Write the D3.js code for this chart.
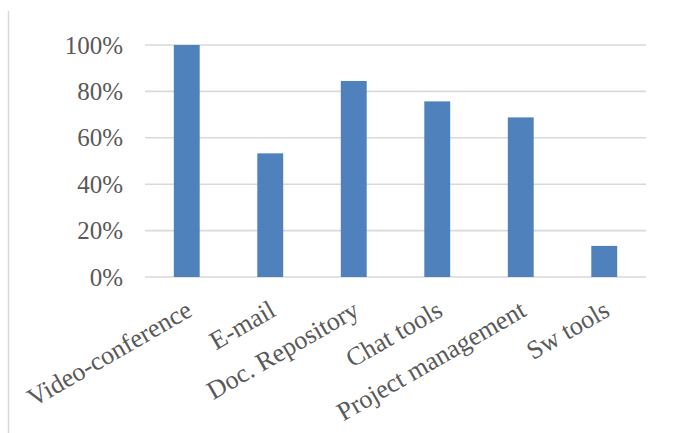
<!DOCTYPE html>
<html>
<head>
<meta charset="utf-8">
<script src="https://cdn.jsdelivr.net/npm/d3@7"></script>
<style>
  html, body { margin: 0; padding: 0; background: #fff; }
  svg { display: block; }
</style>
</head>
<body>
<div id="chart"></div>
<script>
const categories = ['Video-conference', 'E-mail', 'Doc. Repository', 'Chat tools', 'Project management', 'Sw tools'];
const values = [1.00, 0.533, 0.845, 0.757, 0.688, 0.134];
const yTicks = [0, 0.2, 0.4, 0.6, 0.8, 1.0];

const width = 674;
const height = 433;
const margin = { top: 45, right: 28, bottom: 156, left: 145 };
const innerWidth = width - margin.left - margin.right;
const innerHeight = height - margin.top - margin.bottom;

const font = '"Liberation Serif", "DejaVu Serif", serif';

const svg = d3.select('#chart')
  .append('svg')
  .attr('width', width)
  .attr('height', height);

// thin frame line on the left edge
svg.append('line')
  .attr('x1', 8.5).attr('x2', 8.5)
  .attr('y1', 11).attr('y2', height)
  .attr('stroke', '#d9d9d9')
  .attr('stroke-width', 1.5);

const g = svg.append('g')
  .attr('transform', `translate(${margin.left},${margin.top})`);

// SCALES
const x = d3.scaleBand()
  .domain(categories)
  .range([0, innerWidth])
  .paddingInner(0.69)
  .paddingOuter(0.345);

const y = d3.scaleLinear()
  .domain([0, 1])
  .range([innerHeight, 0]);

// gridlines
g.append('g')
  .selectAll('line')
  .data(yTicks)
  .join('line')
  .attr('x1', 0).attr('x2', innerWidth)
  .attr('y1', d => y(d)).attr('y2', d => y(d))
  .attr('stroke', '#d9d9d9')
  .attr('stroke-width', 1.6);

// y axis labels
const yAxis = g.append('g')
  .call(d3.axisLeft(y).tickValues(yTicks).tickFormat(d3.format('.0%')).tickSize(0).tickPadding(22));
yAxis.select('.domain').remove();
yAxis.selectAll('text')
  .attr('fill', '#595959')
  .attr('font-family', font)
  .attr('font-size', '25px');

// bars
g.selectAll('.bar')
  .data(values)
  .join('rect')
  .attr('class', 'bar')
  .attr('x', (d, i) => x(categories[i]))
  .attr('y', d => y(d))
  .attr('width', x.bandwidth())
  .attr('height', d => innerHeight - y(d))
  .attr('fill', '#4f81bd');

// x axis labels, rotated
g.append('g')
  .selectAll('text')
  .data(categories)
  .join('text')
  .attr('transform', d => `translate(${x(d) + x.bandwidth() / 2 + 7},${innerHeight + 38}) rotate(-30)`)
  .attr('text-anchor', 'end')
  .attr('fill', '#595959')
  .attr('font-family', font)
  .attr('font-size', '26px')
  .text(d => d);
</script>
</body>
</html>
